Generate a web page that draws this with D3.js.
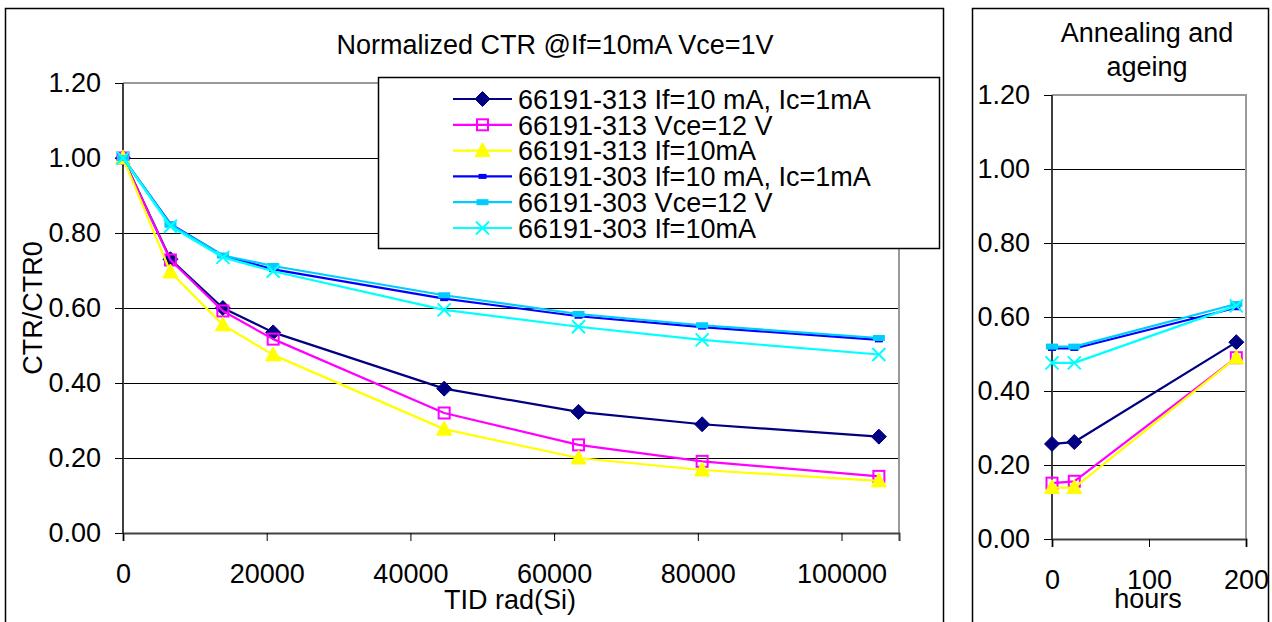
<!DOCTYPE html>
<html>
<head>
<meta charset="utf-8">
<script src="https://cdn.jsdelivr.net/npm/d3@7"></script>
<style>
  html, body { margin: 0; padding: 0; background: #fff; }
  svg text { font-family: "Liberation Sans", Arial, sans-serif; fill: #000; }
</style>
</head>
<body>
<svg id="chart" width="1272" height="622"></svg>
<script>
// Total ionising dose steps, rad(Si)
const doseRad = [0, 6600, 13900, 20900, 44700, 63400, 80600, 105200];
// Annealing / ageing time after irradiation, hours
const hoursAfter = [0, 23, 190];

const seriesNames = [
  "66191-313 If=10 mA, Ic=1mA",
  "66191-313 Vce=12 V",
  "66191-313 If=10mA",
  "66191-303 If=10 mA, Ic=1mA",
  "66191-303 Vce=12 V",
  "66191-303 If=10mA"
];

// Normalized CTR versus dose
const ctr313IcDose  = [1.00, 0.730, 0.600, 0.535, 0.385, 0.323, 0.290, 0.257];
const ctr313VceDose = [1.00, 0.728, 0.592, 0.517, 0.320, 0.235, 0.191, 0.151];
const ctr313IfDose  = [1.00, 0.696, 0.555, 0.475, 0.277, 0.200, 0.168, 0.139];
const ctr303IcDose  = [1.00, 0.824, 0.740, 0.703, 0.625, 0.578, 0.549, 0.515];
const ctr303VceDose = [1.00, 0.822, 0.740, 0.712, 0.634, 0.584, 0.554, 0.520];
const ctr303IfDose  = [1.00, 0.818, 0.735, 0.698, 0.595, 0.550, 0.515, 0.476];

// Normalized CTR versus annealing time
const ctr313IcAnneal  = [0.257, 0.262, 0.532];
const ctr313VceAnneal = [0.151, 0.156, 0.490];
const ctr313IfAnneal  = [0.139, 0.139, 0.490];
const ctr303IcAnneal  = [0.515, 0.515, 0.625];
const ctr303VceAnneal = [0.520, 0.520, 0.635];
const ctr303IfAnneal  = [0.476, 0.476, 0.630];

const yTicks = [0, 0.2, 0.4, 0.6, 0.8, 1.0, 1.2];
const doseTicks = [0, 20000, 40000, 60000, 80000, 100000];
const hourTicks = [0, 100, 200];

const seriesColors = ["#000080", "#FF00FF", "#FFFF00", "#0000FF", "#00CCFF", "#00FFFF"];
const seriesMarkers = ["diamond", "square", "triangle", "dashSmall", "dashBig", "cross"];

const doseSeries = [ctr313IcDose, ctr313VceDose, ctr313IfDose, ctr303IcDose, ctr303VceDose, ctr303IfDose];
const annealSeries = [ctr313IcAnneal, ctr313VceAnneal, ctr313IfAnneal, ctr303IcAnneal, ctr303VceAnneal, ctr303IfAnneal];

const svg = d3.select("#chart");
const FONT = 27;

function drawMarker(g, type, color, x, y) {
  if (type === "diamond") {
    g.append("path").attr("d", `M${x},${y-7.5}L${x+7.5},${y}L${x},${y+7.5}L${x-7.5},${y}Z`)
      .attr("fill", color).attr("stroke", color).attr("stroke-width", 1);
  } else if (type === "square") {
    g.append("rect").attr("x", x-5.5).attr("y", y-5.5).attr("width", 11).attr("height", 11)
      .attr("fill", "none").attr("stroke", color).attr("stroke-width", 2);
  } else if (type === "triangle") {
    g.append("path").attr("d", `M${x},${y-8}L${x+7.5},${y+6}L${x-7.5},${y+6}Z`)
      .attr("fill", color).attr("stroke", color).attr("stroke-width", 1);
  } else if (type === "dashSmall") {
    g.append("rect").attr("x", x-4).attr("y", y-2.5).attr("width", 8).attr("height", 5).attr("fill", color);
  } else if (type === "dashBig") {
    g.append("rect").attr("x", x-6).attr("y", y-3).attr("width", 12).attr("height", 6).attr("fill", color);
  } else if (type === "cross") {
    g.append("path").attr("d", `M${x-6.5},${y-6.5}L${x+6.5},${y+6.5}M${x-6.5},${y+6.5}L${x+6.5},${y-6.5}`)
      .attr("stroke", color).attr("stroke-width", 2).attr("fill", "none");
  }
}

function drawPanel(opts) {
  const { x, y, xs, series, xTicks, xTickFmt } = opts;
  const g = svg.append("g");
  const [x0, x1] = x.range();
  const [y0, y1] = y.range();

  // horizontal gridlines (interior)
  g.selectAll("line.grid").data(yTicks.filter(t => t > 0 && t < 1.2)).enter().append("line")
    .attr("x1", x0).attr("x2", x1).attr("y1", d => y(d)).attr("y2", d => y(d))
    .attr("stroke", "#000").attr("stroke-width", 1).attr("shape-rendering", "crispEdges");

  // plot frame, top and right in grey
  g.append("path").attr("d", `M${x0},${y1}L${x1},${y1}L${x1},${y0}`)
    .attr("fill", "none").attr("stroke", "#999").attr("stroke-width", 2);

  // axes
  const yAxis = d3.axisLeft(y).tickValues(yTicks).tickSize(8).tickFormat(d3.format(".2f")).tickPadding(14);
  const gy = g.append("g").attr("transform", `translate(${x0},0)`).call(yAxis);
  const xAxis = d3.axisBottom(x).tickValues(xTicks).tickSize(8).tickFormat(xTickFmt).tickPadding(23);
  const gx = g.append("g").attr("transform", `translate(0,${y0})`).call(xAxis);
  [gy, gx].forEach(a => {
    a.select(".domain").attr("stroke", "#404040").attr("stroke-width", 2);
    a.selectAll(".tick line").attr("stroke", "#000").attr("stroke-width", 1);
    a.selectAll(".tick text").style("font-size", FONT + "px").attr("font-family", null);
  });
  gy.select(".domain").attr("d", `M${x0},${y0}V${y1}`).attr("transform", `translate(${-x0},0)`);
  gy.selectAll(".tick line").attr("x2", -8);
  gx.selectAll(".tick text").attr("dy", "0.71em");

  // series lines and markers
  const line = d3.line().x((d, i) => x(xs[i])).y(d => y(d));
  series.forEach((vals, si) => {
    const sg = g.append("g");
    sg.append("path").attr("d", line(vals)).attr("fill", "none")
      .attr("stroke", seriesColors[si]).attr("stroke-width", 2.2).attr("stroke-linejoin", "round");
    vals.forEach((v, i) => drawMarker(sg, seriesMarkers[si], seriesColors[si], x(xs[i]), y(v)));
  });
  return g;
}

// outer chart frames
svg.append("rect").attr("x", 5.5).attr("y", 8.5).attr("width", 938).attr("height", 640)
  .attr("fill", "#fff").attr("stroke", "#000").attr("stroke-width", 1.5);
svg.append("rect").attr("x", 972.5).attr("y", 8.5).attr("width", 296).attr("height", 640)
  .attr("fill", "#fff").attr("stroke", "#000").attr("stroke-width", 1.5);

// Left: CTR vs total dose
const xDose = d3.scaleLinear().domain([0, 108000]).range([123, 899]);
const yDose = d3.scaleLinear().domain([0, 1.2]).range([533, 83]);
drawPanel({ x: xDose, y: yDose, xs: doseRad, series: doseSeries, xTicks: doseTicks, xTickFmt: d3.format("d") });

// Right: CTR vs annealing time
const xHours = d3.scaleLinear().domain([0, 200]).range([1052, 1246]);
const yHours = d3.scaleLinear().domain([0, 1.2]).range([539, 95]);
drawPanel({ x: xHours, y: yHours, xs: hoursAfter, series: annealSeries, xTicks: hourTicks, xTickFmt: d3.format("d") });

// titles
svg.append("text").attr("x", 555).attr("y", 54).attr("text-anchor", "middle")
  .style("font-size", FONT + "px").text("Normalized CTR @If=10mA Vce=1V");
svg.append("text").attr("x", 1147).attr("y", 42).attr("text-anchor", "middle")
  .style("font-size", FONT + "px").text("Annealing and");
svg.append("text").attr("x", 1147).attr("y", 76).attr("text-anchor", "middle")
  .style("font-size", FONT + "px").text("ageing");

// axis titles
svg.append("text").attr("x", 510).attr("y", 609).attr("text-anchor", "middle")
  .style("font-size", FONT + "px").text("TID rad(Si)");
svg.append("text").attr("x", 1148).attr("y", 608).attr("text-anchor", "middle")
  .style("font-size", FONT + "px").text("hours");
svg.append("text").attr("transform", "translate(42,308) rotate(-90)").attr("text-anchor", "middle")
  .style("font-size", FONT + "px").text("CTR/CTR0");

// legend
const lg = svg.append("g");
lg.append("rect").attr("x", 378.5).attr("y", 77.5).attr("width", 561).attr("height", 171)
  .attr("fill", "#fff").attr("stroke", "#000").attr("stroke-width", 1.5);
const rowY = d3.scalePoint().domain(d3.range(seriesNames.length)).range([99, 228]);
seriesNames.forEach((name, i) => {
  const yy = rowY(i);
  lg.append("line").attr("x1", 453).attr("x2", 512).attr("y1", yy).attr("y2", yy)
    .attr("stroke", seriesColors[i]).attr("stroke-width", 2.2);
  drawMarker(lg, seriesMarkers[i], seriesColors[i], 482.5, yy);
  lg.append("text").attr("x", 518).attr("y", yy).attr("dy", "0.36em")
    .style("font-size", FONT + "px").text(name);
});
</script>
</body>
</html>
